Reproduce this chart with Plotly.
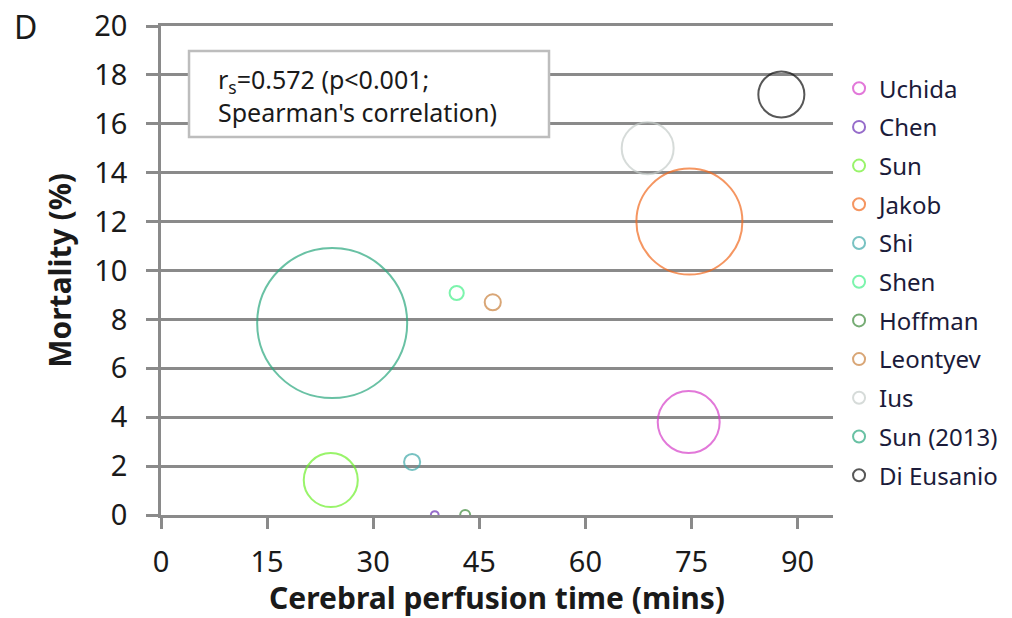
import plotly.graph_objects as go

studies = ["Uchida", "Chen", "Sun", "Jakob", "Shi", "Shen", "Hoffman",
           "Leontyev", "Ius", "Sun (2013)", "Di Eusanio"]
perfusion_time = [74.6, 38.7, 24.0, 74.7, 35.5, 41.8, 43.0, 46.9, 68.8, 24.2, 87.7]
mortality = [3.8, 0.0, 1.43, 12.0, 2.17, 9.08, 0.0, 8.7, 15.0, 7.85, 17.2]
bubble_value = [192, 3, 146, 562, 13, 10, 5, 13, 135, 1125, 106]
colors = ["#d63fc9", "#6a2fb5", "#6ef02c", "#f26a1f", "#3fa9a9", "#45f08a",
          "#3d8a3a", "#c9813d", "#c6cdca", "#2aa87e", "#111111"]

x_ticks = [0, 15, 30, 45, 60, 75, 90]
y_ticks = [0, 2, 4, 6, 8, 10, 12, 14, 16, 18, 20]

FONT = "Noto Sans"
TXT = "#1a1a1a"
GRID = "#8a8a8a"

fig = go.Figure()
for i, name in enumerate(studies):
    fig.add_trace(go.Scatter(
        x=[perfusion_time[i]], y=[mortality[i]], mode="markers", name=name,
        legendgroup=name,
        marker=dict(size=[bubble_value[i]], sizemode="area", sizeref=0.1,
                    color="rgba(255,255,255,0)",
                    line=dict(color=colors[i], width=2)),
        cliponaxis=True,
    ))

fig.update_layout(
    width=1004, height=610,
    margin=dict(l=153, r=179, t=18, b=103, autoexpand=False),
    paper_bgcolor="white", plot_bgcolor="white",
    font=dict(family=FONT, color=TXT),
    showlegend=True,
    legend=dict(x=1.009, xanchor="left", y=0.918, yanchor="top",
                font=dict(size=24, color="#1b1b3a", family=FONT),
                itemsizing="constant", tracegroupgap=4.5,
                traceorder="grouped", bgcolor="rgba(0,0,0,0)"),
    xaxis=dict(range=[0, 95], tickvals=x_ticks, showgrid=False,
               showline=True, mirror=True, linecolor=GRID, linewidth=2.5,
               zeroline=False,
               ticks="outside", ticklen=11, tickwidth=2.5, tickcolor=GRID,
               ticklabelstandoff=8, automargin=False, ticklabeloverflow="allow",
               tickfont=dict(size=29, color=TXT),
               title=dict(text="<b>Cerebral perfusion time (mins)</b>",
                          font=dict(size=30, color=TXT), standoff=6)),
    yaxis=dict(range=[0, 20], tickvals=y_ticks, showgrid=True,
               gridcolor=GRID, gridwidth=2.5, zeroline=False,
               showline=True, linecolor=GRID, linewidth=2.5,
               ticks="outside", ticklen=12, tickwidth=2.5, tickcolor=GRID,
               ticklabelstandoff=13, automargin=False, ticklabeloverflow="allow",
               tickfont=dict(size=29, color=TXT),
               title=dict(text="<b>Mortality (%)</b>",
                          font=dict(size=30, color=TXT), standoff=14)),
    shapes=[
        dict(type="rect", xref="paper", yref="paper", layer="above",
             x0=0.0417, x1=0.5774, y0=0.773, y1=0.949,
             line=dict(color="#bdbdbd", width=2.5), fillcolor="white"),
    ],
    annotations=[
        dict(xref="paper", yref="paper", x=0.082, y=0.857,
             xanchor="left", yanchor="middle", align="left",
             text="r<sub>s</sub>=0.572 (p<0.001;<br>Spearman's correlation)",
             showarrow=False, font=dict(size=25, color=TXT, family=FONT)),
        dict(xref="paper", yref="paper", x=-0.222, y=0.998,
             xanchor="left", yanchor="middle", text="D", showarrow=False,
             font=dict(size=32, color=TXT, family=FONT)),
    ],
)

fig.write_html("out.html")
